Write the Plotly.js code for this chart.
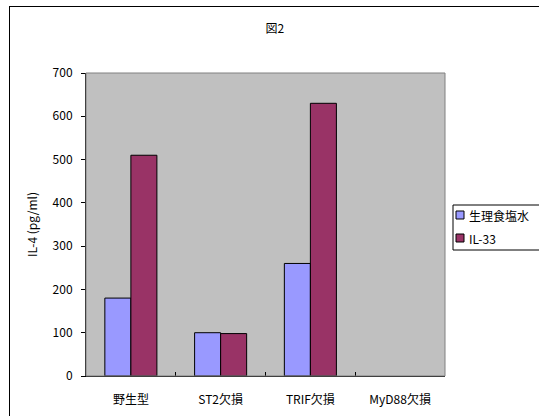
<!DOCTYPE html>
<html><head><meta charset="utf-8">
<script src="https://cdn.plot.ly/plotly-3.0.1.min.js"></script>
<style>body{margin:0;overflow:hidden;background:#fff}#c{width:539px;height:416px}
#frame{position:absolute;left:9px;top:6px;width:560px;height:440px;border:1.5px solid #000;pointer-events:none}</style>
</head><body><div id="c"></div><div id="frame"></div>
<script>
const categories = ["野生型", "ST2欠損", "TRIF欠損", "MyD88欠損"];
const saline = [180, 100, 260, 0];
const il33 = [510, 98, 630, 0];
const seriesNames = ["生理食塩水", "IL-33"];
const seriesColors = ['#9999ff', '#993366'];
const yTicks = [0, 100, 200, 300, 400, 500, 600, 700];
const font = "'Noto Sans CJK JP', 'DejaVu Sans', sans-serif";
const lw = v => v.map(d => d > 0 ? 1 : 0);
const data = [
  {type:'bar', x:categories, y:saline, name:seriesNames[0], marker:{color:seriesColors[0], line:{color:'#000', width:lw(saline)}}},
  {type:'bar', x:categories, y:il33, name:seriesNames[1], marker:{color:seriesColors[1], line:{color:'#000', width:lw(il33)}}}
];
// plot area geometry in pixels
const L = 86, R = 445, T = 73, B = 376;
const px = x => (x - L) / (R - L);
const py = y => (B - y) / (B - T);
const shapes = [
  {type:'rect', xref:'paper', yref:'paper', x0:0, x1:1, y0:0, y1:1, line:{color:'#808080', width:1}, layer:'above'},
  {type:'rect', xref:'paper', yref:'paper', x0:px(453), x1:px(560), y0:py(250), y1:py(205), fillcolor:'#fff', line:{color:'#000', width:1}}
];
const annotations = [];
seriesNames.forEach((n, i) => {
  const cy = 215 + i * 23;
  shapes.push({type:'rect', xref:'paper', yref:'paper', x0:px(456), x1:px(464), y0:py(cy + 4), y1:py(cy - 4), fillcolor:seriesColors[i], line:{color:'#000', width:1}});
  annotations.push({xref:'paper', yref:'paper', x:px(467), y:py(cy), xanchor:'left', yanchor:'middle', text:n, showarrow:false, font:{family:font, size:12}});
});
const layout = {
  width:539, height:416, paper_bgcolor:'#fff', plot_bgcolor:'#c0c0c0',
  margin:{l:L, r:539 - R, t:T, b:416 - B, autoexpand:false},
  font:{family:font, size:12, color:'#000'},
  title:{text:'図2', x:0.51, xanchor:'center', y:0.93, yanchor:'middle', font:{family:font, size:12}},
  barmode:'group', bargap:0.42, bargroupgap:0,
  showlegend:false,
  xaxis:{type:'category', showgrid:false, showline:true, linecolor:'#000', linewidth:1, mirror:false,
    ticks:'inside', ticklen:4, tickcolor:'#000', tickson:'boundaries', ticklabelstandoff:13, tickfont:{family:font, size:12}},
  yaxis:{range:[0,700], tickvals:yTicks, showgrid:false, showline:true, linecolor:'#000', linewidth:1,
    ticks:'outside', ticklen:4, tickcolor:'#000', zeroline:false, ticklabelstandoff:6, tickfont:{family:font, size:12},
    title:{text:'IL-4 (pg/ml)', standoff:12, font:{family:font, size:12}}},
  shapes:shapes, annotations:annotations
};
Plotly.newPlot('c', data, layout, {staticPlot:true, displayModeBar:false});
</script></body></html>
